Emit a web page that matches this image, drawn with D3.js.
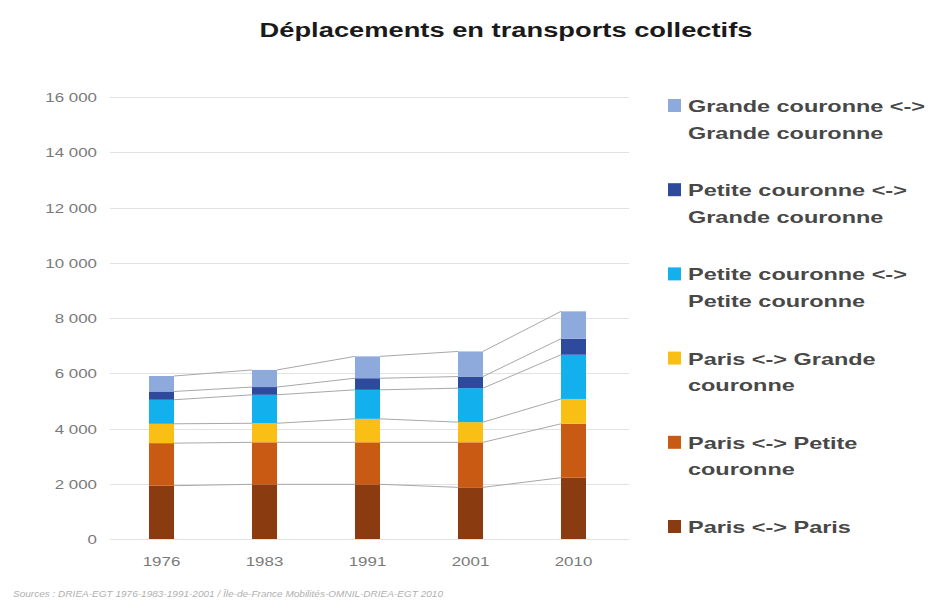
<!DOCTYPE html>
<html>
<head>
<meta charset="utf-8">
<script src="https://cdn.jsdelivr.net/npm/d3@7"></script>
<style>
  html, body { margin: 0; padding: 0; background: #fff; }
  svg { display: block; font-family: "Liberation Sans", Arial, sans-serif; }
</style>
</head>
<body>
<svg id="chart" width="934" height="613"></svg>
<script>
// ---- Data ----
const years = ["1976", "1983", "1991", "2001", "2010"];
const seriesKeys = ["parisParis", "parisPC", "parisGC", "pcPC", "pcGC", "gcGC"];
const parisParis = [1930, 1980, 1980, 1870, 2220];
const parisPC    = [1540, 1520, 1520, 1630, 1950];
const parisGC    = [700, 690, 850, 730, 900];
const pcPC       = [870, 1030, 1050, 1230, 1600];
const pcGC       = [300, 280, 420, 420, 580];
const gcGC       = [560, 620, 790, 910, 990];
const seriesColors = ["#8a3b0f", "#c85a14", "#f9bf14", "#12b0ec", "#2d4a9c", "#8ea9dc"];
const legendLabels = [
  ["Paris <-> Paris"],
  ["Paris <-> Petite", "couronne"],
  ["Paris <-> Grande", "couronne"],
  ["Petite couronne <->", "Petite couronne"],
  ["Petite couronne <->", "Grande couronne"],
  ["Grande couronne <->", "Grande couronne"]
];
const yTicks = [0, 2000, 4000, 6000, 8000, 10000, 12000, 14000, 16000];
const titleText = "Déplacements en transports collectifs";
const sourceText = "Sources : DRIEA-EGT 1976-1983-1991-2001 / Île-de-France Mobilités-OMNIL-DRIEA-EGT 2010";

const seriesValues = [parisParis, parisPC, parisGC, pcPC, pcGC, gcGC];
const table = years.map((yr, i) => {
  const row = { year: yr };
  seriesKeys.forEach((k, j) => row[k] = seriesValues[j][i]);
  return row;
});

// ---- Layout ----
const SX = 1.3; // horizontal text stretch of the original
const svg = d3.select("#chart");
const x = d3.scaleBand().domain(years).range([110, 625]).paddingInner(0.757).paddingOuter(0.3785);
const y = d3.scaleLinear().domain([0, 16000]).range([539, 97]);
const fmt = d3.formatLocale({ decimal: ",", thousands: "\u00a0", grouping: [3], currency: ["", "€"] }).format(",d");

// Title
svg.append("text")
  .attr("transform", `translate(506,37) scale(${SX},1)`)
  .attr("text-anchor", "middle")
  .attr("font-size", 21).attr("font-weight", "bold").attr("fill", "#1a1a1a")
  .text(titleText);

// Gridlines
svg.append("g").selectAll("line").data(yTicks).join("line")
  .attr("x1", 110).attr("x2", 629)
  .attr("y1", d => Math.round(y(d)) + 0.5).attr("y2", d => Math.round(y(d)) + 0.5)
  .attr("stroke", "#e2e2e2").attr("stroke-width", 1);

// Y axis
const yAxisG = svg.append("g").attr("transform", "translate(97,0)")
  .call(d3.axisLeft(y).tickValues(yTicks).tickSize(0).tickPadding(0).tickFormat(fmt));
yAxisG.select(".domain").remove();
yAxisG.selectAll("text")
  .attr("x", 0).attr("dy", "0.35em")
  .attr("transform", `scale(${SX},1)`)
  .attr("font-size", 13).attr("font-family", "Liberation Sans, Arial, sans-serif")
  .attr("fill", "#7a7a7a");

// X axis
const xAxisG = svg.append("g").attr("transform", "translate(0,539)")
  .call(d3.axisBottom(x).tickSize(0).tickPadding(0));
xAxisG.select(".domain").remove();
xAxisG.selectAll("text")
  .attr("y", 27).attr("dy", 0)
  .attr("transform", `scale(${SX},1)`)
  .attr("font-size", 13).attr("font-family", "Liberation Sans, Arial, sans-serif")
  .attr("fill", "#7a7a7a");

// Stack
const stack = d3.stack().keys(seriesKeys)(table);

// Connector lines (series lines between bars)
const conn = svg.append("g");
stack.forEach(layer => {
  for (let i = 0; i < layer.length - 1; i++) {
    conn.append("line")
      .attr("x1", x(years[i]) + x.bandwidth()).attr("y1", y(layer[i][1]))
      .attr("x2", x(years[i + 1])).attr("y2", y(layer[i + 1][1]))
      .attr("stroke", "#a8a8a8").attr("stroke-width", 1);
  }
});

// Bars
svg.append("g").selectAll("g").data(stack).join("g")
  .attr("fill", (d, i) => seriesColors[i])
  .selectAll("rect").data(d => d).join("rect")
  .attr("x", d => x(d.data.year))
  .attr("width", x.bandwidth())
  .attr("y", d => y(d[1]))
  .attr("height", d => y(d[0]) - y(d[1]));

// Legend (top entry = last series)
const legendOrder = d3.range(seriesKeys.length).reverse();
const leg = svg.append("g");
legendOrder.forEach((si, k) => {
  const baseY = 112 + k * 84.2;
  leg.append("rect")
    .attr("x", 668).attr("y", baseY - 13).attr("width", 13).attr("height", 13)
    .attr("fill", seriesColors[si]);
  legendLabels[si].forEach((line, li) => {
    leg.append("text")
      .attr("transform", `translate(688,${baseY + li * 26.5}) scale(1.38,1)`)
      .attr("font-size", 17).attr("font-weight", "bold").attr("fill", "#484848")
      .text(line);
  });
});

// Source
svg.append("text")
  .attr("x", 13).attr("y", 597)
  .attr("font-size", 9).attr("font-style", "italic").attr("fill", "#b0b0b0")
  .attr("textLength", 430).attr("lengthAdjust", "spacingAndGlyphs")
  .text(sourceText);
</script>
</body>
</html>
